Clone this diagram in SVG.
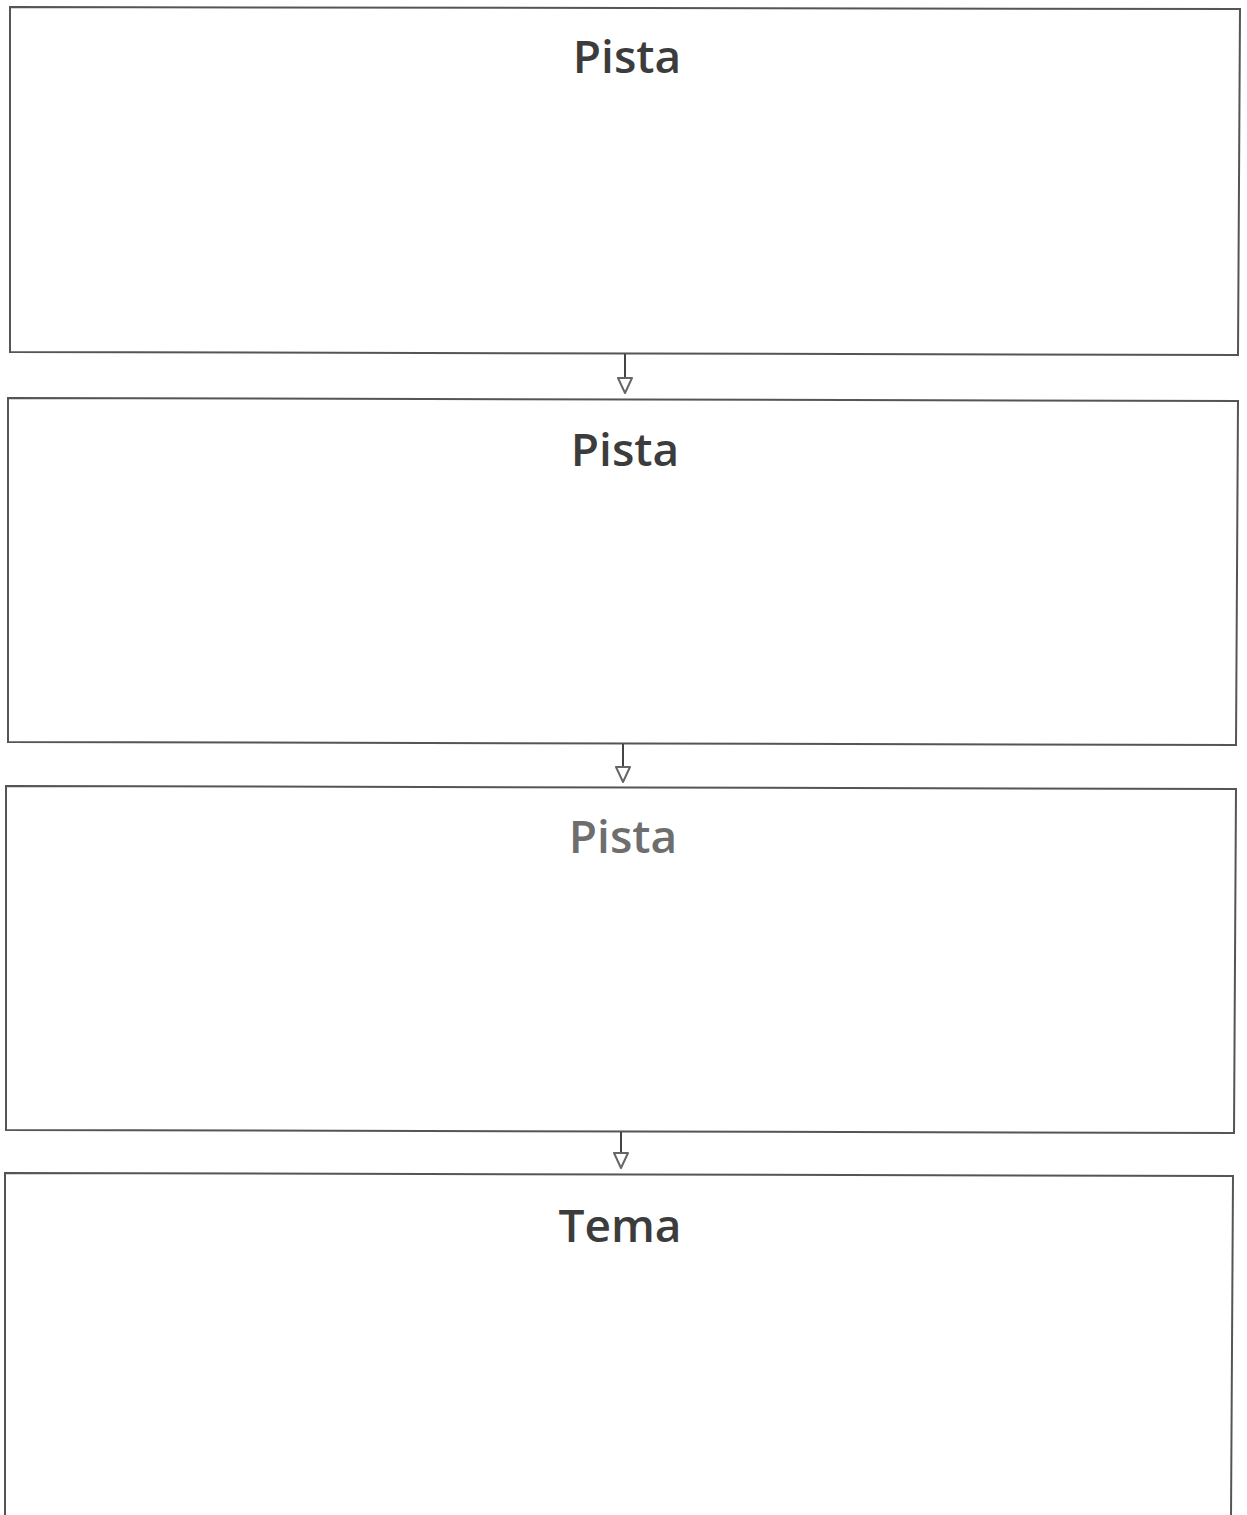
<svg xmlns="http://www.w3.org/2000/svg" width="1247" height="1515" viewBox="0 0 1247 1515">
<style>
.box{fill:#fff;stroke:#555;stroke-width:2}
.t{font-family:"Open Sans","DejaVu Sans",sans-serif;font-weight:600;font-size:46px;fill:#3c3c3c;text-anchor:middle}
.c{stroke:#444;stroke-width:2;fill:none}
</style>
<defs>
<marker id="ah" viewBox="0 0 18 18" refX="16" refY="9" markerWidth="18" markerHeight="18" markerUnits="userSpaceOnUse" orient="auto">
<path d="M1,2 L16,9 L1,16 Z" fill="#fff" stroke="#666" stroke-width="2" stroke-linejoin="round"/>
</marker>
</defs>
<rect width="1247" height="1515" fill="#fff"/>
<g id="node1"><polygon class="box" points="10,7 1240,9 1238,355 10,352"/><text class="t" x="627" y="73">Pista</text></g>
<g id="node2"><polygon class="box" points="8,398 1238,401 1236,745 8,742"/><text class="t" x="625" y="466">Pista</text></g>
<g id="node3"><polygon class="box" points="6,786 1236,789 1234,1133 6,1130"/><text class="t" x="623" y="853" style="fill:#6e6e6e">Pista</text></g>
<g id="node4"><polygon class="box" points="5,1173 1233,1176 1231,1520 5,1520"/><text class="t" x="620" y="1242">Tema</text></g>
<g id="connectors">
<line class="c" x1="625" y1="354" x2="625" y2="393" marker-end="url(#ah)"/>
<line class="c" x1="623" y1="744" x2="623" y2="782" marker-end="url(#ah)"/>
<line class="c" x1="621" y1="1132" x2="621" y2="1168" marker-end="url(#ah)"/>
</g>
</svg>
